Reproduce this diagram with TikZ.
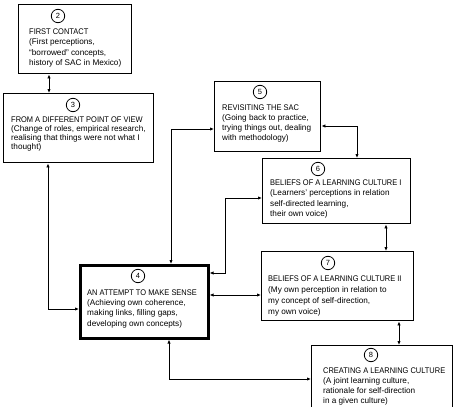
\documentclass[tikz,border=0pt]{standalone}
\usepackage{fontspec}
\usepackage{graphicx}
\setmainfont{Liberation Sans}
\usetikzlibrary{arrows.meta}
\newcommand\capline[1]{\scalebox{0.91}[1]{#1}}
\tikzset{
  box/.style={draw=black, line width=1.4pt, anchor=north west, inner sep=0pt},
  thickbox/.style={box, line width=2.6pt},
  txt/.style={anchor=base west, align=left, inner sep=0pt, font=\fontsize{8.2}{10.3}\selectfont},
  tighttxt/.style={txt, font=\fontsize{8.2}{9.3}\selectfont},
  wtxt/.style={txt, font=\fontsize{8.2}{11}\selectfont},
  num/.style={draw=black, circle, line width=0.8pt, minimum size=13.4pt, inner sep=0pt, font=\fontsize{7.5}{9}\selectfont},
  conn/.style={draw=black, line width=0.8pt, {Latex[length=4pt,width=3.4pt]}-{Latex[length=4pt,width=3.4pt]}}
}
\begin{document}
\begin{tikzpicture}[x=1pt,y=-1pt]
\clip (0,0) rectangle (459,407);
\useasboundingbox (0,0) rectangle (459,407);

% boxes
\node[box, minimum width=113pt, minimum height=69pt] (b2) at (18,4) {};
\node[box, minimum width=150pt, minimum height=69pt] (b3) at (3,93) {};
\node[thickbox, minimum width=128pt, minimum height=73pt] (b4) at (79,264) {};
\node[box, minimum width=106pt, minimum height=70pt] (b5) at (214,81) {};
\node[box, minimum width=148pt, minimum height=65pt] (b6) at (262,158) {};
\node[box, minimum width=152pt, minimum height=69pt] (b7) at (261,251) {};
\node[box, minimum width=141pt, minimum height=80pt] (b8) at (311,345) {};

% numbers
\node[num] (n2) at (58,16) {2};
\node[num] (n3) at (73,105) {3};
\node[num] (n4) at (138,276) {4};
\node[num] (n5) at (260,92) {5};
\node[num] (n6) at (318,169) {6};
\node[num] (n7) at (328,263) {7};
\node[num] (n8) at (371,355) {8};

% texts (anchor = baseline of last line)
\node[txt] (t2) at (29,65.5) {\capline{FIRST CONTACT}\\(First perceptions,\\``borrowed'' concepts,\\history of SAC in Mexico)};
\node[tighttxt] (t3) at (11,149.9) {\capline{FROM A DIFFERENT POINT OF VIEW}\\(Change of roles, empirical research,\\realising that things were not what I\\thought)};
\node[txt] (t4) at (87,326) {\capline{AN ATTEMPT TO MAKE SENSE}\\(Achieving own coherence,\\making links, filling gaps,\\developing own concepts)};
\node[txt] (t5) at (222,140.9) {\capline{REVISITING THE SAC}\\(Going back to practice,\\trying things out, dealing\\with methodology)};
\node[txt] (t6) at (270,216.5) {\capline{BELIEFS OF A LEARNING CULTURE I}\\(Learners' perceptions in relation\\self-directed learning,\\their own voice)};
\node[wtxt] (t7) at (268,314) {\capline{BELIEFS OF A LEARNING CULTURE II}\\(My own perception in relation to\\my concept of self-direction,\\my own voice)};
\node[txt] (t8) at (323,403.9) {\capline{CREATING A LEARNING CULTURE}\\(A joint learning culture,\\rationale for self-direction\\in a given culture)};

% bend coordinates
\coordinate (k23) at (49,0);
\coordinate (k34) at (48,309);
\coordinate (k54) at (171,129);
\coordinate (k56) at (357,126);
\coordinate (k64a) at (225,198);
\coordinate (k64b) at (225,273);
\coordinate (k47) at (0,295);
\coordinate (k67) at (386,0);
\coordinate (k78) at (399,0);
\coordinate (k48) at (169,379);

% connectors
\draw[conn] (b2.south -| k23) -- (b3.north -| k23);
\draw[conn] (b3.south -| k34) |- (b4.west |- k34);
\draw[conn] (b5.west |- k54) -| (b4.north -| k54);
\draw[conn] (b5.east |- k56) -| (b6.north -| k56);
\draw[conn] (b6.west |- k64a) -- (k64a) -- (k64b) -- (b4.east |- k64b);
\draw[conn] (b4.east |- k47) -- (b7.west |- k47);
\draw[conn] (b6.south -| k67) -- (b7.north -| k67);
\draw[conn] (b7.south -| k78) -- (b8.north -| k78);
\draw[conn] (b4.south -| k48) |- (b8.west |- k48);
\end{tikzpicture}
\end{document}
